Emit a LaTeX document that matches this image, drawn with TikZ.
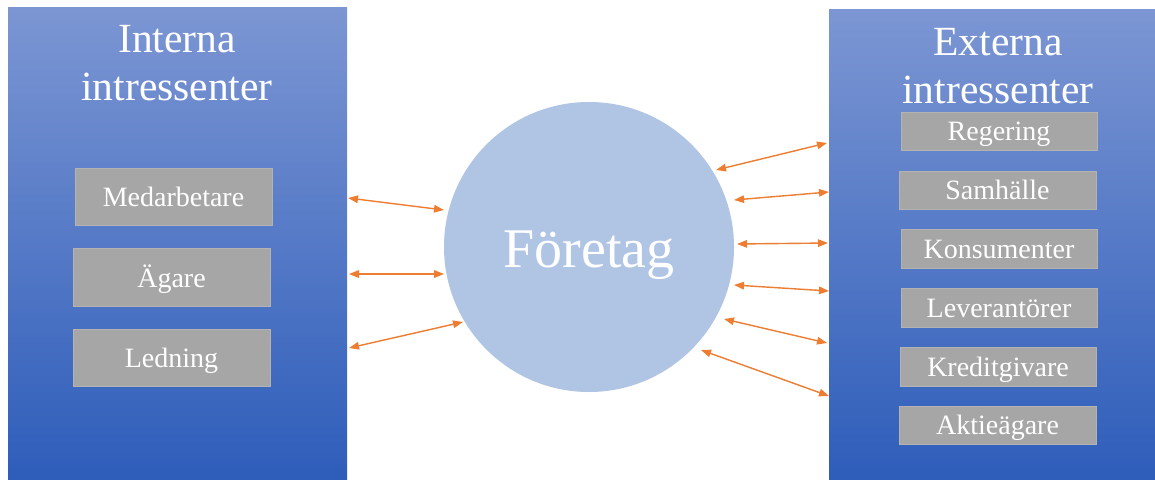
\documentclass[tikz,border=0pt]{standalone}
\usepackage{fontspec}
\setmainfont{Liberation Serif}
\usetikzlibrary{arrows.meta}
\definecolor{panTop}{RGB}{124,150,211}
\definecolor{panMid}{RGB}{60,110,201}
\definecolor{panBot}{RGB}{46,93,186}
\definecolor{boxgray}{RGB}{166,166,166}
\definecolor{circfill}{RGB}{176,196,228}
\definecolor{arrorange}{RGB}{237,125,49}
\begin{document}
\begin{tikzpicture}[x=1pt,y=-1pt,
  panel/.style={top color=panTop, middle color=panMid, bottom color=panBot, draw=none},
  title/.style={text=white, align=center, anchor=north, inner sep=0pt, font=\fontsize{41.5}{48}\selectfont},
  itembox/.style={fill=boxgray, draw=boxgray!85!white, line width=0.6pt, text=white, inner sep=0pt,
    font=\fontsize{28}{30}\selectfont, text height=20pt, text depth=0pt, anchor=center},
  link/.style={draw=arrorange, line width=1.4pt, {Triangle[length=10pt,width=7.5pt]}-{Triangle[length=10pt,width=7.5pt]}}
]
\useasboundingbox (0,0) rectangle (1155,479);
\fill[white] (0,0) rectangle (1155,479);

% panels
\path[panel] (8,7) rectangle (347,479);
\path[panel] (829,9) rectangle (1155,479);

% titles
\node[title] (tin) at (177,25) {Interna\\intressenter};
\node[title] (tex) at (998,28) {Externa\\intressenter};

% left boxes
\node[itembox, minimum width=197pt, minimum height=57pt] (med) at (173.5,196.5) {Medarbetare};
\node[itembox, minimum width=197pt, minimum height=58pt] (aga) at (171.5,277) {Ägare};
\node[itembox, minimum width=197pt, minimum height=57pt] (led) at (171.5,357.5) {Ledning};

% right boxes
\node[itembox, minimum width=196pt, minimum height=38pt, text height=19pt] (reg) at (999,131) {Regering};
\node[itembox, minimum width=197pt, minimum height=38pt, text height=19pt] (sam) at (997.5,190) {Samhälle};
\node[itembox, minimum width=196pt, minimum height=39pt, text height=19pt] (kon) at (999,248.5) {Konsumenter};
\node[itembox, minimum width=196pt, minimum height=39pt, text height=19pt] (lev) at (999,307.5) {Leverantörer};
\node[itembox, minimum width=196pt, minimum height=39pt, text height=19pt] (kre) at (998,366.5) {Kreditgivare};
\node[itembox, minimum width=197pt, minimum height=38pt, text height=19pt] (akt) at (997.5,425) {Aktieägare};

% central circle
\node[circle, fill=circfill, minimum size=290pt, inner sep=0pt, text=white,
  font=\fontsize{56}{60}\selectfont, text height=40pt, text depth=0pt] (fo) at (589,247) {Företag};

% arrow endpoints
\coordinate (l1a) at (348,198); \coordinate (l1b) at (444,210);
\coordinate (l2a) at (349,274); \coordinate (l2b) at (444,274);
\coordinate (l3a) at (349,348); \coordinate (l3b) at (463,322);
\coordinate (r1a) at (716,170); \coordinate (r1b) at (827,143);
\coordinate (r2a) at (734,200); \coordinate (r2b) at (829,192);
\coordinate (r3a) at (737,244); \coordinate (r3b) at (828,243);
\coordinate (r4a) at (734,285); \coordinate (r4b) at (829,291);
\coordinate (r5a) at (724,319); \coordinate (r5b) at (827,343);
\coordinate (r6a) at (701,350); \coordinate (r6b) at (829,396);

\draw[link] (l1a) -- (l1b);
\draw[link] (l2a) -- (l2b);
\draw[link] (l3a) -- (l3b);
\draw[link] (r1a) -- (r1b);
\draw[link] (r2a) -- (r2b);
\draw[link] (r3a) -- (r3b);
\draw[link] (r4a) -- (r4b);
\draw[link] (r5a) -- (r5b);
\draw[link] (r6a) -- (r6b);
\end{tikzpicture}
\end{document}
